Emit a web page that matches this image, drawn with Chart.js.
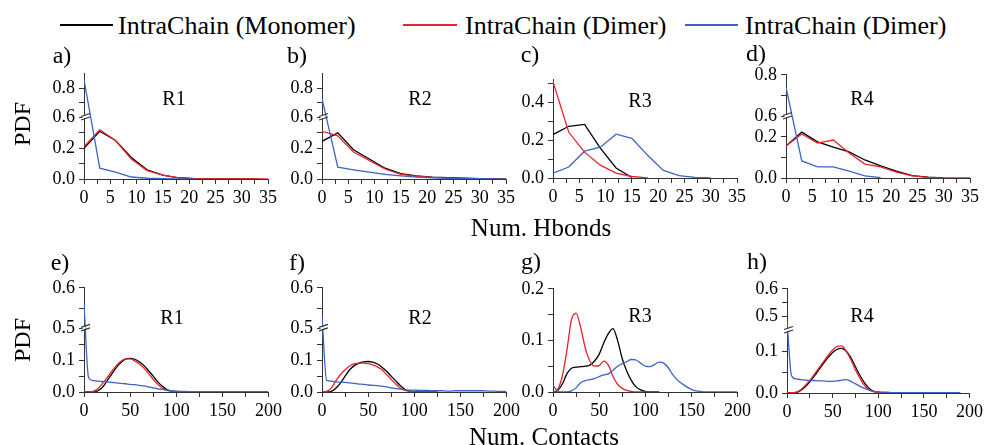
<!DOCTYPE html>
<html>
<head>
<meta charset="utf-8">
<script src="https://cdn.jsdelivr.net/npm/chart.js@4/dist/chart.umd.min.js"></script>
<style>
  body {
    margin: 0;
    width: 986px;
    height: 445px;
    position: relative;
    overflow: hidden;
    background: #fff;
    font-family: "Liberation Serif", "Times New Roman", serif;
    color: #000;
  }
  canvas { position: absolute; }
  .txt {
    position: absolute;
    white-space: nowrap;
    line-height: 1;
    transform: translate(-50%, -50%);
  }
  .leg { font-size: 26px; transform: translate(0, -50%); }
  .legline { position: absolute; height: 2px; }
  .letter { font-size: 24px; }
  .region { font-size: 20px; }
  .ylab { font-size: 24px; transform: translate(-50%, -50%) rotate(-90deg); }
  .xlab { font-size: 25px; }
</style>
</head>
<body>

<div class="legline" style="left:60px; top:24px; width:53px; background:#000000;"></div>
<div class="txt leg" style="left:118px; top:26px;">IntraChain (Monomer)</div>
<div class="legline" style="left:403px; top:24px; width:54px; background:#e8232b;"></div>
<div class="txt leg" style="left:465px; top:26px;">IntraChain (Dimer)</div>
<div class="legline" style="left:685px; top:24px; width:53px; background:#3c64c4;"></div>
<div class="txt leg" style="left:745px; top:26px;">IntraChain (Dimer)</div>

<div id="charts"></div>

<div class="txt letter" style="left:62px; top:55px;">a)</div>
<div class="txt letter" style="left:297px; top:55px;">b)</div>
<div class="txt letter" style="left:530px; top:54px;">c)</div>
<div class="txt letter" style="left:756px; top:53px;">d)</div>
<div class="txt letter" style="left:60px; top:262px;">e)</div>
<div class="txt letter" style="left:297px; top:262px;">f)</div>
<div class="txt letter" style="left:531px; top:261px;">g)</div>
<div class="txt letter" style="left:757px; top:261px;">h)</div>

<div class="txt ylab" style="left:22px; top:124px;">PDF</div>
<div class="txt ylab" style="left:22px; top:340px;">PDF</div>

<div class="txt xlab" style="left:541px; top:227px;">Num. Hbonds</div>
<div class="txt xlab" style="left:544px; top:436px;">Num. Contacts</div>

<div id="regions"></div>

<script>
// ---- data ----
const hbX = [0, 3, 6, 9, 12, 15, 18, 21, 24, 27, 30, 33, 36];
const ctX = [0, 5, 10, 15, 20, 25, 30, 35, 40, 45, 50, 55, 60, 65, 70, 75, 80, 85, 90, 95,
  100, 105, 110, 115, 120, 125, 130, 135, 140, 145, 150, 155, 160, 165, 170, 175, 180, 185, 190, 195, 200];

const hbXTicks = [0, 2.5, 5, 7.5, 10, 12.5, 15, 17.5, 20, 22.5, 25, 27.5, 30, 32.5, 35];
const hbXLabels = [0, 5, 10, 15, 20, 25, 30, 35];
const ctXTicks = [0, 25, 50, 75, 100, 125, 150, 175, 200];
const ctXLabels = [0, 50, 100, 150, 200];

const abYTicks = [0, 0.1, 0.2, 0.3, 0.6, 0.7, 0.8];
const abYLabels = [0, 0.2, 0.6, 0.8];
const cYTicks = [0, 0.1, 0.2, 0.3, 0.4, 0.5];
const cYLabels = [0, 0.2, 0.4];
const dYTicks = [0, 0.1, 0.2, 0.6, 0.7, 0.8];
const dYLabels = [0, 0.2, 0.6, 0.8];
const efYTicks = [0, 0.05, 0.1, 0.15, 0.5, 0.55, 0.6];
const efYLabels = [0, 0.1, 0.5, 0.6];
const gYTicks = [0, 0.05, 0.1, 0.15, 0.2];
const gYLabels = [0, 0.1, 0.2];
const hYTicks = [0, 0.05, 0.1, 0.5, 0.55, 0.6];
const hYLabels = [0, 0.1, 0.5, 0.6];

// a) R1 hbonds
const aMono = [0.20, 0.31, 0.25, 0.14, 0.06, 0.025, 0.008, 0.003, 0.001, 0, 0, 0];
const aDimer = [0.21, 0.32, 0.25, 0.13, 0.055, 0.025, 0.008, 0.003, 0.001, 0, 0, 0, 0];
const aDimerB = [0.86, 0.07, 0.045, 0.013, 0.005, 0.002, 0.001, 0];
// b) R2 hbonds
const bMono = [0.245, 0.30, 0.19, 0.13, 0.07, 0.035, 0.02, 0.012, 0.008, 0.005, 0.003, 0.002, 0.001];
const bDimer = [0.31, 0.28, 0.175, 0.12, 0.065, 0.03, 0.018, 0.01, 0.006, 0.004, 0.002, 0.001, 0.001];
const bDimerB = [0.73, 0.077, 0.06, 0.045, 0.03, 0.02, 0.012, 0.008, 0.005, 0.003, 0.002, 0.001, 0.001];
// c) R3 hbonds
const cMono = [0.23, 0.274, 0.284, 0.158, 0.053, 0.003];
const cDimer = [0.51, 0.242, 0.137, 0.068, 0.026, 0.008, 0.001];
const cDimerB = [0.026, 0.058, 0.142, 0.163, 0.232, 0.21, 0.12, 0.04, 0.012, 0.003, 0.001];
// d) R4 hbonds
const dMono = [0.156, 0.224, 0.176, 0.151, 0.127, 0.088, 0.059, 0.034, 0.012, 0.004, 0.001];
const dDimer = [0.156, 0.215, 0.17, 0.185, 0.122, 0.068, 0.054, 0.029, 0.01, 0.003, 0.001, 0, 0];
const dDimerB = [0.74, 0.083, 0.054, 0.054, 0.034, 0.01, 0.002];

// e) R1 contacts
const eMono = [0, 0, 0, 0.004, 0.015, 0.035, 0.056, 0.077, 0.093, 0.103, 0.106, 0.103, 0.095, 0.083,
  0.067, 0.05, 0.032, 0.018, 0.008, 0.003, 0.001, 0, 0, 0, 0, 0];
const eDimer = [0, 0, 0.002, 0.01, 0.027, 0.045, 0.065, 0.083, 0.097, 0.104, 0.104, 0.098, 0.088, 0.075,
  0.058, 0.04, 0.024, 0.012, 0.005, 0.002, 0.001, 0, 0, 0, 0, 0];
const eDimerB = [0.56, 0.045, 0.036, 0.034, 0.033, 0.032, 0.03, 0.029, 0.027, 0.026, 0.024, 0.023, 0.021,
  0.019, 0.016, 0.013, 0.01, 0.008, 0.006, 0.004, 0.003, 0.002, 0.002, 0.001, 0.001, 0.001, 0.001, 0.001,
  0.001, 0.001, 0.001, 0.001, 0.001, 0.001, 0.001, 0.001, 0.001, 0.001, 0.001, 0.001, 0.001];
// f) R2 contacts
const fMono = [0, 0, 0.002, 0.012, 0.028, 0.05, 0.07, 0.083, 0.091, 0.095, 0.096, 0.094, 0.088, 0.078,
  0.065, 0.05, 0.035, 0.02, 0.008, 0.003, 0.001, 0, 0, 0, 0, 0];
const fDimer = [0, 0.002, 0.012, 0.035, 0.055, 0.07, 0.082, 0.089, 0.091, 0.091, 0.089, 0.085, 0.079, 0.07,
  0.055, 0.04, 0.025, 0.012, 0.005, 0.002, 0.001, 0, 0, 0, 0, 0];
const fDimerB = [0.53, 0.037, 0.034, 0.032, 0.031, 0.03, 0.029, 0.027, 0.025, 0.024, 0.022, 0.021, 0.02,
  0.018, 0.016, 0.013, 0.011, 0.009, 0.007, 0.006, 0.006, 0.005, 0.005, 0.005, 0.004, 0.004, 0.004, 0.003,
  0.003, 0.004, 0.004, 0.004, 0.004, 0.004, 0.004, 0.004, 0.003, 0.003, 0.002, 0.002, 0.002];
// g) R3 contacts
const gMono = [0, 0.003, 0.015, 0.035, 0.046, 0.048, 0.049, 0.05, 0.052, 0.06, 0.073, 0.095, 0.113, 0.123,
  0.1, 0.065, 0.04, 0.022, 0.01, 0.004, 0.001, 0, 0, 0];
const gDimer = [0, 0.005, 0.03, 0.08, 0.14, 0.153, 0.125, 0.085, 0.06, 0.05, 0.051, 0.06, 0.052, 0.03,
  0.015, 0.007, 0.003, 0.001, 0, 0, 0, 0, 0, 0];
const gDimerB = [0.013, 0.002, 0, 0, 0.002, 0.008, 0.018, 0.022, 0.024, 0.026, 0.03, 0.033, 0.035, 0.042,
  0.05, 0.055, 0.059, 0.063, 0.062, 0.056, 0.05, 0.049, 0.053, 0.058, 0.056, 0.047, 0.033, 0.023, 0.016,
  0.01, 0.005, 0.002, 0.001, 0, 0, 0, 0, 0, 0, 0, 0];
// h) R4 contacts
const hMono = [0, 0, 0.001, 0.006, 0.015, 0.027, 0.041, 0.056, 0.071, 0.085, 0.097, 0.105, 0.107, 0.1,
  0.085, 0.063, 0.042, 0.024, 0.011, 0.004, 0.002, 0, 0, 0, 0, 0];
const hDimer = [0, 0, 0.002, 0.008, 0.018, 0.03, 0.045, 0.06, 0.075, 0.09, 0.103, 0.112, 0.113, 0.1,
  0.08, 0.055, 0.035, 0.018, 0.008, 0.003, 0.001, 0, 0, 0, 0, 0];
const hDimerB = [0.485, 0.041, 0.034, 0.032, 0.031, 0.03, 0.03, 0.029, 0.029, 0.028, 0.028, 0.029, 0.031,
  0.032, 0.028, 0.022, 0.016, 0.011, 0.007, 0.004, 0.003, 0.002, 0.002, 0.001, 0.001, 0.001, 0.001, 0.001,
  0.001, 0.001, 0.001, 0.001, 0.001, 0.001, 0.001, 0.001, 0.001, 0.001, 0.001];

const regions = ["R1", "R2", "R3", "R4"];

// ---- styling / layout ----
const BLACK = "#000000";
const RED = "#e8232b";
const BLUE = "#3c64c4";
const AXIS = "#333333";
const FONT = "'Liberation Serif', 'Times New Roman', serif";

const YW = 50, XH = 30, PT = 14, PR = 16; // space around each chart area

// chart area box for every panel, plus where the y break sits
const boxes = {
  a: { l: 84, t: 73, r: 268, b: 179, frac: 0.585, rx: 174, ry: 98 },
  b: { l: 322, t: 73, r: 506, b: 179, frac: 0.585, rx: 420, ry: 98 },
  c: { l: 553, t: 79, r: 737, b: 178, rx: 640, ry: 100 },
  d: { l: 786, t: 74, r: 970, b: 178, frac: 0.596, rx: 862, ry: 98 },
  e: { l: 84, t: 287, r: 269, b: 392, frac: 0.61, rx: 172, ry: 317 },
  f: { l: 322, t: 287, r: 507, b: 392, frac: 0.61, rx: 420, ry: 317 },
  g: { l: 553, t: 288, r: 738, b: 392, rx: 640, ry: 315 },
  h: { l: 787, t: 288, r: 970, b: 393, frac: 0.6, rx: 862, ry: 315 },
};

const panels = [
  { id: "a", x: hbX, mono: aMono, dimer: aDimer, dimerB: aDimerB, xMax: 35, xt: hbXTicks, xl: hbXLabels, yMax: 0.9, yt: abYTicks, yl: abYLabels, brk: [0.4, 0.6], reg: 0, smooth: false },
  { id: "b", x: hbX, mono: bMono, dimer: bDimer, dimerB: bDimerB, xMax: 35, xt: hbXTicks, xl: hbXLabels, yMax: 0.9, yt: abYTicks, yl: abYLabels, brk: [0.4, 0.6], reg: 1, smooth: false },
  { id: "c", x: hbX, mono: cMono, dimer: cDimer, dimerB: cDimerB, xMax: 35, xt: hbXTicks, xl: hbXLabels, yMax: 0.52, yt: cYTicks, yl: cYLabels, brk: null, reg: 2, smooth: false },
  { id: "d", x: hbX, mono: dMono, dimer: dDimer, dimerB: dDimerB, xMax: 35, xt: hbXTicks, xl: hbXLabels, yMax: 0.8, yt: dYTicks, yl: dYLabels, brk: [0.3, 0.6], reg: 3, smooth: false },
  { id: "e", x: ctX, mono: eMono, dimer: eDimer, dimerB: eDimerB, xMax: 200, xt: ctXTicks, xl: ctXLabels, yMax: 0.6, yt: efYTicks, yl: efYLabels, brk: [0.2, 0.5], reg: 0, smooth: true },
  { id: "f", x: ctX, mono: fMono, dimer: fDimer, dimerB: fDimerB, xMax: 200, xt: ctXTicks, xl: ctXLabels, yMax: 0.6, yt: efYTicks, yl: efYLabels, brk: [0.2, 0.5], reg: 1, smooth: true },
  { id: "g", x: ctX, mono: gMono, dimer: gDimer, dimerB: gDimerB, xMax: 200, xt: ctXTicks, xl: ctXLabels, yMax: 0.2, yt: gYTicks, yl: gYLabels, brk: null, reg: 2, smooth: true },
  { id: "h", x: ctX, mono: hMono, dimer: hDimer, dimerB: hDimerB, xMax: 200, xt: ctXTicks, xl: ctXLabels, yMax: 0.6, yt: hYTicks, yl: hYLabels, brk: [0.15, 0.45], reg: 3, smooth: true },
];

const breakCfg = {}; // canvas id -> {lo, hi, frac}

// linear scale with a gap between lo and hi
class BrokenScale extends Chart.LinearScale {
  getPixelForValue(value) {
    const b = breakCfg[this.chart.canvas.id];
    if (!b || this.axis !== "y") return super.getPixelForValue(value);
    let d;
    if (value <= b.lo) d = b.frac * (value - this.min) / (b.lo - this.min);
    else if (value >= b.hi) d = b.frac + (1 - b.frac) * (value - b.hi) / (this.max - b.hi);
    else d = b.frac;
    return this.getPixelForDecimal(d);
  }
}
BrokenScale.id = "broken";
BrokenScale.defaults = {};
Chart.register(BrokenScale);

// the little "//" on the y axis
const breakMark = {
  id: "breakMark",
  afterDraw(chart) {
    const b = breakCfg[chart.canvas.id];
    if (!b) return;
    const ctx = chart.ctx;
    const py = chart.scales.y.getPixelForValue(b.lo);
    const x = chart.chartArea.left;
    ctx.save();
    ctx.fillStyle = "#fff";
    ctx.fillRect(x - 1.5, py - 2, 3, 3);
    ctx.strokeStyle = AXIS;
    ctx.lineWidth = 1.2;
    ctx.beginPath();
    ctx.moveTo(x - 3, py - 1);
    ctx.lineTo(x + 6, py - 4);
    ctx.moveTo(x - 3, py + 2.5);
    ctx.lineTo(x + 6, py - 0.5);
    ctx.stroke();
    ctx.restore();
  },
};

function pts(xs, ys) {
  return ys.map((v, i) => ({ x: xs[i], y: v }));
}

function buildPanel(p) {
  const box = boxes[p.id];
  const canvas = document.createElement("canvas");
  canvas.id = "panel-" + p.id;
  canvas.width = YW + (box.r - box.l) + PR;
  canvas.height = PT + (box.b - box.t) + XH;
  canvas.style.left = (box.l - YW) + "px";
  canvas.style.top = (box.t - PT) + "px";
  document.getElementById("charts").appendChild(canvas);

  if (p.brk) breakCfg[canvas.id] = { lo: p.brk[0], hi: p.brk[1], frac: box.frac };

  const reg = document.createElement("div");
  reg.className = "txt region";
  reg.style.left = box.rx + "px";
  reg.style.top = box.ry + "px";
  reg.textContent = regions[p.reg];
  document.getElementById("regions").appendChild(reg);

  const lineStyle = {
    borderWidth: 1.3,
    pointRadius: 0,
    fill: false,
    tension: p.smooth ? 0.4 : 0,
    cubicInterpolationMode: p.smooth ? "monotone" : "default",
  };

  new Chart(canvas, {
    type: "line",
    data: {
      datasets: [
        Object.assign({ data: pts(p.x, p.dimerB), borderColor: BLUE, order: 0 }, lineStyle),
        Object.assign({ data: pts(p.x, p.dimer), borderColor: RED, order: 1 }, lineStyle),
        Object.assign({ data: pts(p.x, p.mono), borderColor: BLACK, order: 2 }, lineStyle),
      ],
    },
    options: {
      responsive: false,
      animation: false,
      events: [],
      layout: { padding: { left: 0, top: PT, right: PR, bottom: 0 } },
      plugins: { legend: { display: false }, tooltip: { enabled: false } },
      scales: {
        x: {
          type: "linear",
          min: 0,
          max: p.xMax,
          afterFit: (s) => { s.height = XH; },
          afterBuildTicks: (s) => { s.ticks = p.xt.map((v) => ({ value: v })); },
          grid: { drawOnChartArea: false, tickLength: 5, color: AXIS },
          border: { color: AXIS, width: 1 },
          ticks: {
            autoSkip: false,
            maxRotation: 0,
            padding: 3,
            color: "#000",
            font: { family: FONT, size: 18 },
            callback: (v) => (p.xl.includes(v) ? String(v) : ""),
          },
        },
        y: {
          type: "broken",
          min: 0,
          max: p.yMax,
          afterFit: (s) => { s.width = YW; },
          afterBuildTicks: (s) => { s.ticks = p.yt.map((v) => ({ value: v })); },
          grid: { drawOnChartArea: false, tickLength: 5, color: AXIS },
          border: { color: AXIS, width: 1 },
          ticks: {
            autoSkip: false,
            padding: 4,
            color: "#000",
            font: { family: FONT, size: 18 },
            callback: (v) => (p.yl.includes(v) ? v.toFixed(1) : ""),
          },
        },
      },
    },
    plugins: [breakMark],
  });
}

panels.forEach(buildPanel);
</script>
</body>
</html>
